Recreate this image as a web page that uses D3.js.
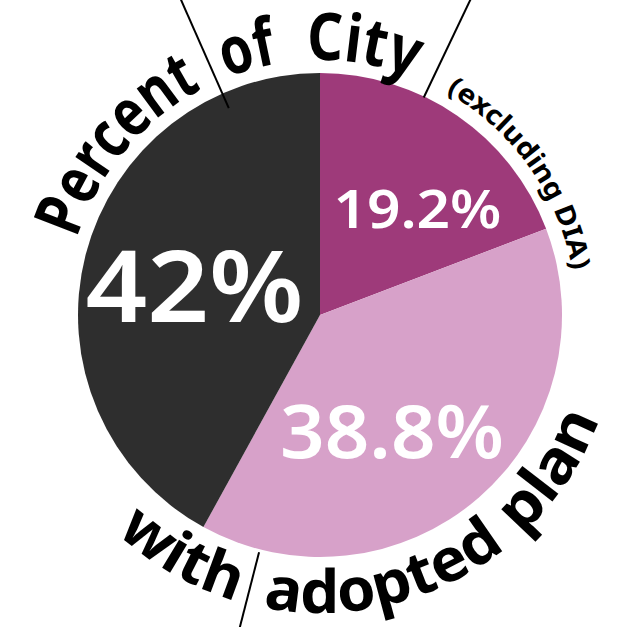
<!DOCTYPE html>
<html>
<head>
<meta charset="utf-8">
<script src="https://cdn.jsdelivr.net/npm/d3@7"></script>
<style>
  html, body { margin: 0; padding: 0; background: #fff; }
  svg { display: block; }
</style>
</head>
<body>
<div id="chart-area"></div>
<script>
// slice data, clockwise from 12 o'clock
const categories = ["Adopted plan (A)", "Adopted plan (B)", "No adopted plan"];
const values = [19.2, 38.8, 42];
const labels = ["19.2%", "38.8%", "42%"];
const colors = ["#9e3a7a", "#d7a1c9", "#2e2e2e"];

// curved title pieces
const titleTop = ["Percent", "of", "City"];
const titleNote = ["(excluding DIA)"];
const titleBottom = ["with", "adopted", "plan"];

let width = 634, height = 627;
let cx = 320, cy = 315, radius = 242;

let svg = d3.select("#chart-area")
  .append("svg")
  .attr("width", width)
  .attr("height", height);

let g = svg.append("g")
  .attr("transform", "translate(" + cx + "," + cy + ")");

let pie = d3.pie().sort(null).value(d => d);
let arcs = pie(values);

let arc = d3.arc().innerRadius(0).outerRadius(radius);
let labelArc = d3.arc().innerRadius(140).outerRadius(140);

g.selectAll("path.slice")
  .data(arcs)
  .enter()
  .append("path")
  .attr("class", "slice")
  .attr("d", arc)
  .attr("fill", (d, i) => colors[i]);

// label sizes, widths and nudges
let labelSize = [52, 74, 100];
let labelLen = [168, 224, 218];
let nudge = [[18, 8], [-20, 9], [10, 3]];

g.selectAll("text.pct")
  .data(arcs)
  .enter()
  .append("text")
  .attr("class", "pct")
  .attr("x", (d, i) => labelArc.centroid(d)[0] + nudge[i][0] - labelLen[i] / 2)
  .attr("y", (d, i) => labelArc.centroid(d)[1] + nudge[i][1])
  .attr("textLength", (d, i) => labelLen[i])
  .attr("lengthAdjust", "spacingAndGlyphs")
  .attr("dominant-baseline", "central")
  .attr("font-family", "'Noto Sans', sans-serif")
  .attr("font-weight", 600)
  .attr("font-size", (d, i) => labelSize[i] + "px")
  .attr("fill", "#fff")
  .text((d, i) => labels[i]);

// helper: point on circle, angle in degrees clockwise from top
function pt(r, a) {
  let t = a * Math.PI / 180;
  return [r * Math.sin(t), -r * Math.cos(t)];
}
function arcPath(r, a0, a1) {
  let p0 = pt(r, a0), p1 = pt(r, a1);
  let sweep = a1 > a0 ? 1 : 0;
  let large = Math.abs(a1 - a0) > 180 ? 1 : 0;
  return "M" + p0[0] + "," + p0[1] + " A" + r + "," + r + " 0 " + large + " " + sweep + " " + p1[0] + "," + p1[1];
}

let defs = svg.append("defs");
let pathN = 0;

// each word: start angle, end angle (degrees), radius of baseline
function curved(words, spans, r, size) {
  words.forEach((w, i) => {
    let a0 = spans[i][0], a1 = spans[i][1];
    let mid = (a0 + a1) / 2;
    let dir = a1 > a0 ? 1 : -1;
    let id = "tp" + (pathN++);
    defs.append("path").attr("id", id)
      .attr("d", arcPath(r, mid - dir * 80, mid + dir * 80))
      .attr("transform", "translate(" + cx + "," + cy + ")");
    let len = Math.abs(a1 - a0) * Math.PI / 180 * r;
    svg.append("text")
      .attr("font-family", "'Noto Sans', sans-serif")
      .attr("font-weight", 700)
      .attr("font-size", size + "px")
      .attr("fill", "#000")
      .append("textPath")
      .attr("href", "#" + id)
      .attr("startOffset", "50%")
      .attr("text-anchor", "middle")
      .attr("textLength", len)
      .attr("lengthAdjust", "spacingAndGlyphs")
      .text(w);
  });
}
curved(titleTop, [[-72.5, -27.5], [-21.5, -9.5], [-3, 21.5]], 255, 66);
curved(titleNote, [[29.5, 80]], 256, 27);
curved(titleBottom, [[223, 196.5], [191, 141.5], [137.5, 110.5]], 298, 60);

// radial divider strokes
let strokes = [[-23.8, 226, 360], [25.5, 241, 360], [194.4, 245, 330]];
g.selectAll("line.tick")
  .data(strokes)
  .enter()
  .append("line")
  .attr("class", "tick")
  .attr("x1", d => pt(d[1], d[0])[0])
  .attr("y1", d => pt(d[1], d[0])[1])
  .attr("x2", d => pt(d[2], d[0])[0])
  .attr("y2", d => pt(d[2], d[0])[1])
  .attr("stroke", "#000")
  .attr("stroke-width", 2);
</script>
</body>
</html>
